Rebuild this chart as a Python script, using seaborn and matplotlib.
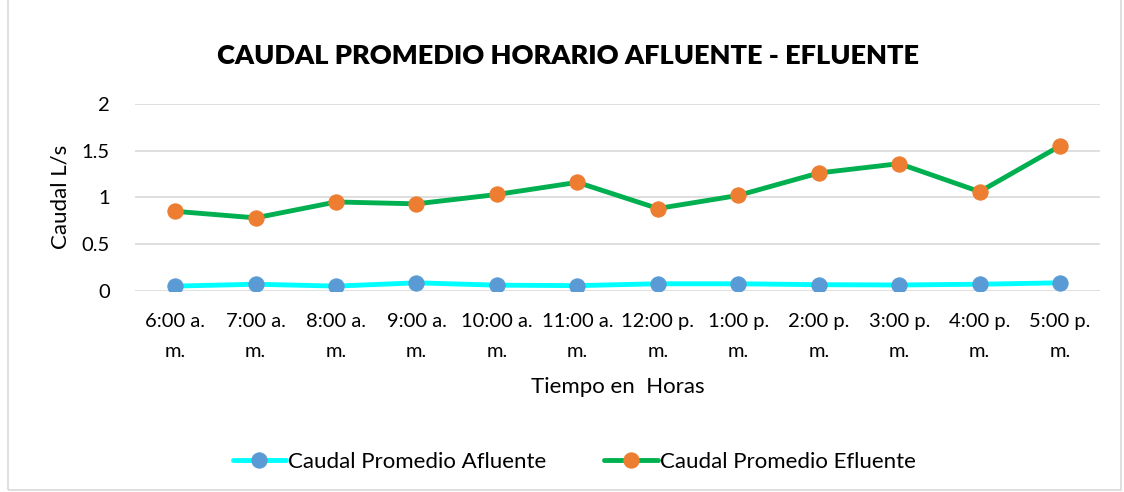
import pandas as pd
import seaborn as sns
import matplotlib.pyplot as plt
from matplotlib.patches import Rectangle

# values
horas = ['6:00 a.\nm.', '7:00 a.\nm.', '8:00 a.\nm.', '9:00 a.\nm.', '10:00 a.\nm.', '11:00 a.\nm.',
         '12:00 p.\nm.', '1:00 p.\nm.', '2:00 p.\nm.', '3:00 p.\nm.', '4:00 p.\nm.', '5:00 p.\nm.']
afluente = [0.05, 0.07, 0.05, 0.085, 0.06, 0.055, 0.075, 0.075, 0.065, 0.062, 0.07, 0.085]
efluente = [0.85, 0.78, 0.95, 0.93, 1.03, 1.16, 0.88, 1.02, 1.26, 1.36, 1.06, 1.55]

df = pd.DataFrame({'x': range(len(horas)), 'afluente': afluente, 'efluente': efluente})

sns.set_style('white')
plt.rcParams['font.family'] = ['Lato', 'DejaVu Sans']

fig = plt.figure(figsize=(11.24, 4.92), dpi=100)
ax = fig.add_axes([0.12, 0.409, 0.859, 0.38])

sns.lineplot(x='x', y='afluente', data=df, ax=ax, color='#00FFFF', linewidth=3.5,
             marker='o', markersize=11, markerfacecolor='#5B9BD5', markeredgecolor='#5B9BD5',
             label='Caudal Promedio Afluente')
sns.lineplot(x='x', y='efluente', data=df, ax=ax, color='#00B050', linewidth=3.5,
             marker='o', markersize=11, markerfacecolor='#ED7D31', markeredgecolor='#ED7D31',
             label='Caudal Promedio Efluente')

ax.set_xlim(-0.5, len(horas) - 0.5)
ax.set_ylim(0, 2)
ax.set_yticks([0, 0.5, 1, 1.5, 2])
ax.set_yticklabels(['0', '0.5', '1', '1.5', '2'])
ax.set_xticks(range(len(horas)))
ax.set_xticklabels(horas, linespacing=1.95)
ax.tick_params(axis='both', length=0, labelsize=14.5, colors='black')
ax.tick_params(axis='x', pad=16)
ax.tick_params(axis='y', pad=18)
ax.yaxis.grid(True, color='#D9D9D9', linewidth=1.2)
ax.set_axisbelow(True)
for s in ax.spines.values():
    s.set_visible(False)

ax.set_xlabel('Tiempo en  Horas', fontsize=16, labelpad=12, color='black')
ax.set_ylabel('Caudal L/s', fontsize=16, labelpad=8, color='black')
fig.suptitle('CAUDAL PROMEDIO HORARIO AFLUENTE - EFLUENTE', fontsize=19.5, fontweight='heavy',
             x=0.505, y=0.91, color='black')

leg = ax.legend(loc='center', bbox_to_anchor=(0.455, -0.915), ncol=2, frameon=False,
                fontsize=16, handlelength=2.4, columnspacing=2.6, handletextpad=0.1)
for t in leg.get_texts():
    t.set_color('black')

fig.patches.append(Rectangle((0.007, 0.004), 0.99, 1.2, transform=fig.transFigure,
                             fill=False, edgecolor='#D9D9D9', linewidth=1.2))

fig.savefig('out.png', dpi=100)
